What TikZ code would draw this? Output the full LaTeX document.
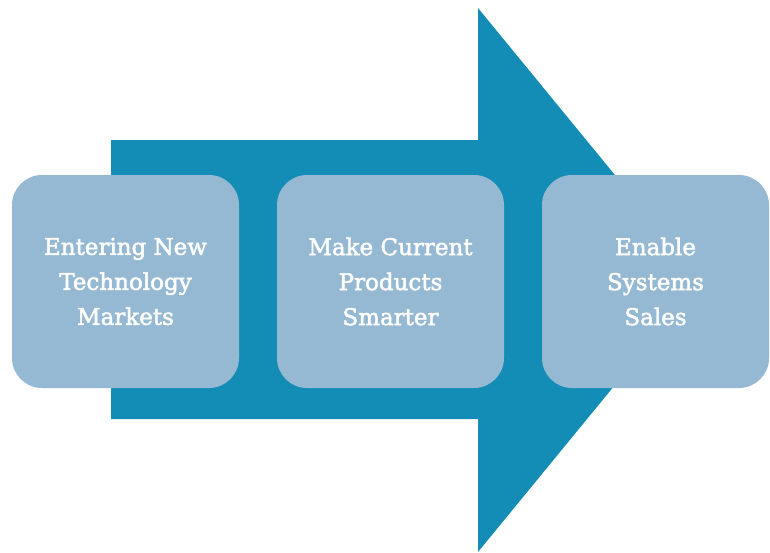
\documentclass[tikz,border=0pt]{standalone}
\usepackage{fontspec}
\setmainfont{DejaVu Serif}
\newfontfamily\labelfont[FakeBold=2]{DejaVu Serif}
\definecolor{arrowblue}{HTML}{138DB6}
\definecolor{boxblue}{HTML}{95B9D3}
\begin{document}
\begin{tikzpicture}[x=1pt,y=-1pt,
  stagebox/.style={fill=boxblue, draw=none, rounded corners=30pt, minimum width=227pt, minimum height=213pt, inner sep=0pt, align=center, text=white, font=\labelfont\fontsize{23}{35}\selectfont}]
\useasboundingbox (0,0) rectangle (770,552);
\fill[arrowblue] (111,140) -- (478,140) -- (478,8) -- (701,280) -- (478,552) -- (478,419) -- (111,419) -- cycle;
\node[stagebox] (s1) at (125.5,281.5) {Entering New\\Technology\\Markets};
\node[stagebox] (s2) at (390.5,281.5) {Make Current\\Products\\Smarter};
\node[stagebox] (s3) at (655.5,281.5) {Enable\\Systems\\Sales};
\end{tikzpicture}
\end{document}
